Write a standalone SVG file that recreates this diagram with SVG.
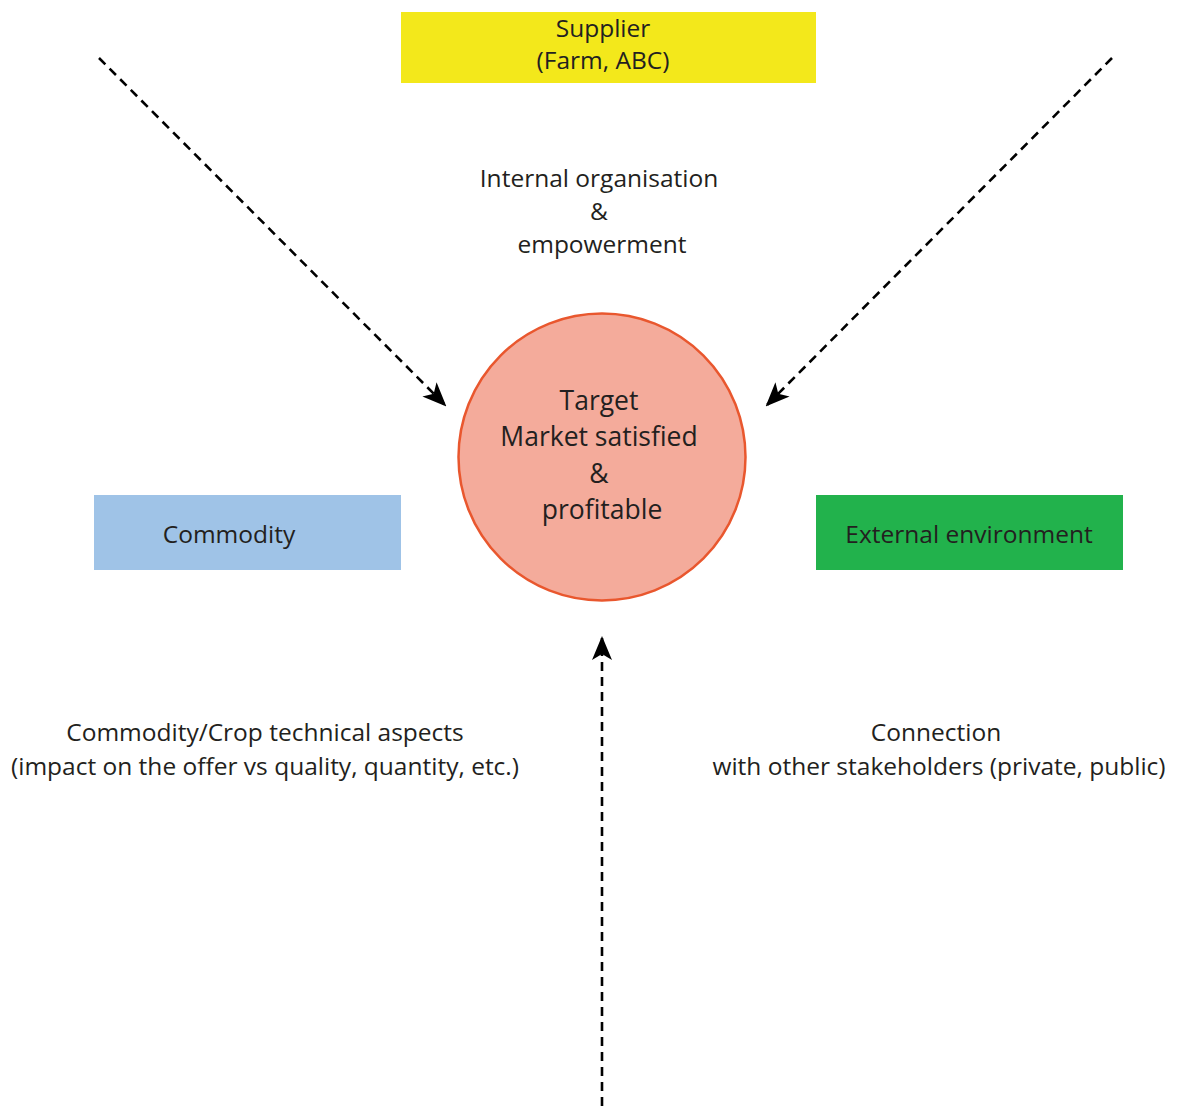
<svg xmlns="http://www.w3.org/2000/svg" width="1177" height="1106" viewBox="0 0 1177 1106">
<style>
.t{font-family:"Open Sans","Noto Sans",sans-serif;fill:#231f20;text-anchor:middle}
.s{font-size:24.5px}
.c{font-size:26.5px}
.con{fill:none;stroke:#000;stroke-width:2.6;stroke-dasharray:9 6}
</style>
<defs>
<marker id="ah" viewBox="0 0 24 20" refX="22" refY="10" markerWidth="24" markerHeight="20" markerUnits="userSpaceOnUse" orient="auto">
<path d="M0,0 L24,10 L0,20 L6,10 Z" fill="#000"/>
</marker>
</defs>
<rect width="1177" height="1106" fill="#fff"/>
<g id="connectors">
<line class="con" x1="99" y1="58" x2="445" y2="405" marker-end="url(#ah)"/>
<line class="con" x1="1112" y1="58" x2="767" y2="405" marker-end="url(#ah)"/>
<line class="con" x1="602" y1="1106" x2="602" y2="638" marker-end="url(#ah)"/>
</g>
<g id="supplier">
<rect x="401" y="12" width="415" height="71" fill="#f3e81b"/>
<text class="t s" x="603" y="37">Supplier</text>
<text class="t s" x="603" y="69">(Farm, ABC)</text>
</g>
<g id="internal">
<text class="t s" x="599" y="187">Internal organisation</text>
<text class="t s" x="599" y="220">&amp;</text>
<text class="t s" x="602" y="253">empowerment</text>
</g>
<g id="target">
<circle cx="602" cy="457" r="143.5" fill="#f4ab9b" stroke="#e9572e" stroke-width="2.5"/>
<text class="t c" x="599" y="410">Target</text>
<text class="t c" x="599" y="446">Market satisfied</text>
<text class="t c" x="599" y="483">&amp;</text>
<text class="t c" x="602" y="519">profitable</text>
</g>
<g id="commodity">
<rect x="94" y="495" width="307" height="75" fill="#9fc3e7"/>
<text class="t s" x="229" y="543">Commodity</text>
</g>
<g id="external">
<rect x="816" y="495" width="307" height="75" fill="#22b24c"/>
<text class="t s" x="969" y="543">External environment</text>
</g>
<g id="commodity-aspects">
<text class="t s" x="265" y="741">Commodity/Crop technical aspects</text>
<text class="t s" x="265" y="775">(impact on the offer vs quality, quantity, etc.)</text>
</g>
<g id="connection">
<text class="t s" x="936" y="741">Connection</text>
<text class="t s" x="939" y="775">with other stakeholders (private, public)</text>
</g>
</svg>
